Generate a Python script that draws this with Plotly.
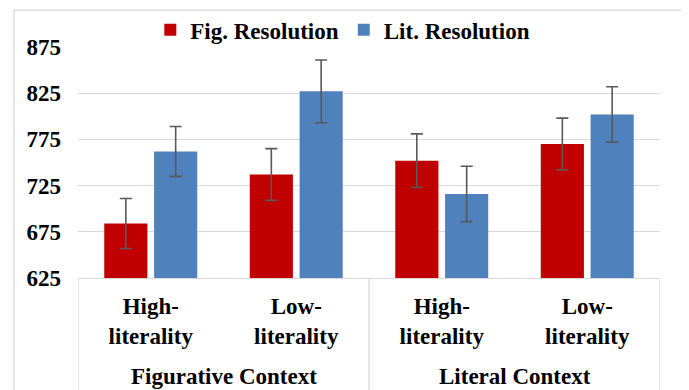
import plotly.graph_objects as go

contexts = ["Figurative Context", "Figurative Context", "Literal Context", "Literal Context"]
literality = ["High-<br>literality", "Low-<br>literality", "High-<br>literality", "Low-<br>literality"]

fig_res = [684, 737, 752, 770]
fig_err = [27, 28, 29, 28]
lit_res = [762, 827, 716, 802]
lit_err = [27, 34, 30, 30]

y_ticks = [625, 675, 725, 775, 825, 875]

FONT = "Liberation Serif"
GRID = "#d9d9d9"
keys = [f"{c}|{l}" for c, l in zip(contexts, literality)]
err_style = dict(type="data", visible=True, color="#595959", thickness=1.6, width=6)

fig = go.Figure()
fig.add_trace(go.Bar(
    name="Fig. Resolution", x=keys, y=fig_res,
    marker=dict(color="#C00000", line=dict(width=0)),
    error_y=dict(array=fig_err, **err_style),
))
fig.add_trace(go.Bar(
    name="Lit. Resolution", x=keys, y=lit_res,
    marker=dict(color="#4F81BD", line=dict(width=0)),
    error_y=dict(array=lit_err, **err_style),
))

# the page body adds an 8px margin, so the figure is 8px smaller
fig.update_layout(
    width=681, height=382,
    margin=dict(l=70, r=29, t=39, b=112, autoexpand=False),
    paper_bgcolor="white", plot_bgcolor="white",
    barmode="group", bargap=0.315, bargroupgap=0.134,
    font=dict(family=FONT, size=23, color="black", weight="bold"),
    legend=dict(orientation="h", x=0.455, xanchor="center", y=1.074, yanchor="middle",
                font=dict(family=FONT, size=23, color="black", weight="bold"),
                itemwidth=30, tracegroupgap=0, bgcolor="rgba(0,0,0,0)"),
    showlegend=True,
)
fig.update_yaxes(
    range=[625, 875], tickvals=y_ticks, showgrid=True, gridcolor=GRID, gridwidth=1.3,
    zeroline=False, showline=False, ticks="", ticklabelstandoff=16, automargin=False,
    tickfont=dict(family=FONT, size=23, color="black", weight="bold"),
)
fig.update_xaxes(
    type="category", tickvals=keys, ticktext=literality, range=[-0.5, len(keys) - 0.5],
    showline=True, linecolor=GRID, linewidth=1.3, ticks="", automargin=False,
    ticklabelstandoff=7,
    tickfont=dict(family=FONT, size=23, color="black", weight="bold"),
)

# group dividers and group labels
groups = []
for i, c in enumerate(contexts):
    if not groups or groups[-1][0] != c:
        groups.append([c, i, i])
    else:
        groups[-1][2] = i
bounds = sorted({g[1] - 0.5 for g in groups} | {g[2] + 0.5 for g in groups})
for b in bounds:
    fig.add_shape(type="line", xref="x", yref="paper", x0=b, x1=b, y0=0, y1=-0.6,
                  line=dict(color=GRID, width=1.3))
for name, i0, i1 in groups:
    fig.add_annotation(x=(i0 + i1) / 2, xref="x", y=-0.425, yref="paper",
                       text=name, showarrow=False, yanchor="middle",
                       font=dict(family=FONT, size=23, color="black", weight="bold"))

# outer chart border
fig.add_shape(type="rect", xref="paper", yref="paper",
              x0=-0.11, x1=1.043, y0=-0.6, y1=1.16,
              line=dict(color=GRID, width=1.3), fillcolor="rgba(0,0,0,0)", layer="below")

fig.write_html("out.html")
